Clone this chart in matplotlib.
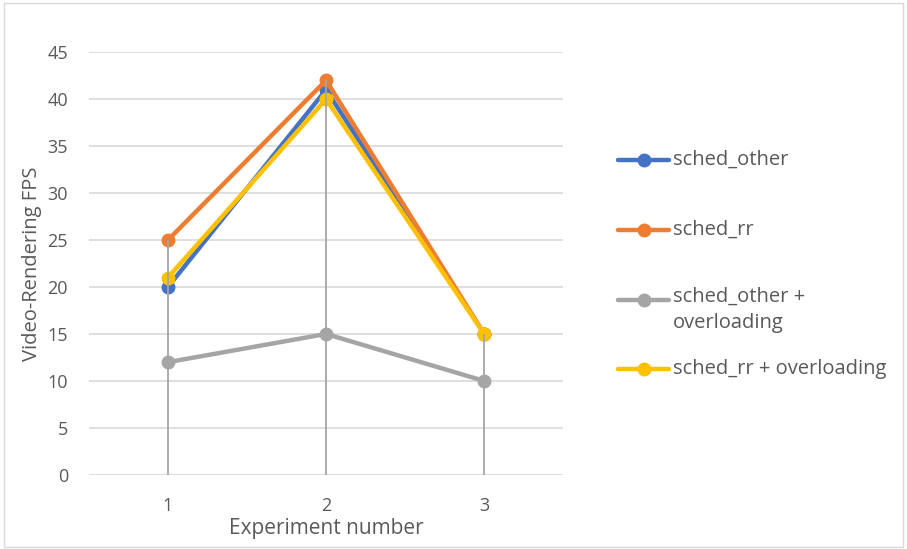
import matplotlib
matplotlib.use("Agg")
import matplotlib.pyplot as plt
from matplotlib.lines import Line2D
from matplotlib.patches import Rectangle

plt.rcParams['font.family'] = ['Open Sans', 'DejaVu Sans']

experiments = ['1', '2', '3']
sched_other = [20, 41, 15]
sched_rr = [25, 42, 15]
sched_other_overload = [12, 15, 10]
sched_rr_overload = [21, 40, 15]

labels = ['sched_other', 'sched_rr', 'sched_other +\noverloading', 'sched_rr + overloading']
colors = ['#4472C4', '#ED7D31', '#A5A5A5', '#FFC000']
series = [sched_other, sched_rr, sched_other_overload, sched_rr_overload]

fig = plt.figure(figsize=(9.07, 5.49), dpi=100)
ax = fig.add_axes([0.098, 0.135, 0.523, 0.77])

x = list(range(len(experiments)))
for vals, c in zip(series, colors):
    ax.plot(x, vals, color=c, lw=3.2, marker='o', ms=9, solid_capstyle='round', zorder=3)

# drop lines from highest point down to the axis
tops = [max(v) for v in zip(*series)]
ax.vlines(x, 0, tops, color='#A5A5A5', lw=1.3, zorder=4)

ax.set_xlim(-0.5, 2.5)
ax.set_ylim(0, 45)
ax.set_yticks(range(0, 46, 5))
ax.set_xticks(x)
ax.set_xticklabels(experiments)
ax.grid(axis='y', color='#D9D9D9', lw=1.2)
ax.set_axisbelow(True)
for s in ax.spines.values():
    s.set_visible(False)
ax.tick_params(axis='y', length=0, labelsize=13, colors='#595959', pad=15)
ax.tick_params(axis='x', length=0, labelsize=13, colors='#595959', pad=16)
ax.set_xlabel('Experiment number', fontsize=15, color='#595959', labelpad=2)
ax.set_ylabel('Video-Rendering FPS', fontsize=14.5, color='#595959', labelpad=4)

# legend, drawn by hand to match the spaced-out layout
leg_y = [160, 230, 300, 369]
for lab, c, yy in zip(labels, colors, leg_y):
    fy = 1 - yy / 549
    fig.add_artist(Line2D([618 / 907, 669 / 907], [fy, fy], color=c, lw=3.2,
                          solid_capstyle='round'))
    fig.add_artist(Line2D([644 / 907], [fy], color=c, marker='o', ms=9))
    if '\n' in lab:
        fig.text(673 / 907, fy + 13 / 549, lab, fontsize=14.5, color='#595959', va='top',
                 linespacing=1.4)
    else:
        fig.text(673 / 907, fy, lab, fontsize=14.5, color='#595959', va='center')

fig.add_artist(Rectangle((0.004, 0.004), 0.992, 0.99, transform=fig.transFigure,
                         fill=False, edgecolor='#D9D9D9', lw=1))

fig.savefig('out.png', dpi=100)
